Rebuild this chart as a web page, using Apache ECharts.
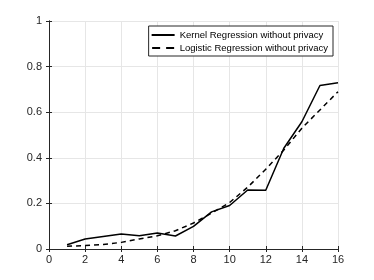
<!DOCTYPE html>
<html><head><meta charset="utf-8">
<script src="https://cdn.jsdelivr.net/npm/echarts@6/dist/echarts.min.js"></script>
<style>html,body{margin:0;padding:0;background:#fff}#c{width:374px;height:280px}</style>
</head><body><div id="c"></div>
<script>
var xValues = [1,2,3,4,5,6,7,8,9,10,11,12,13,14,15,16];
var kernelValues = [0.019,0.044,0.055,0.066,0.058,0.070,0.057,0.099,0.163,0.191,0.259,0.258,0.442,0.558,0.717,0.729];
var logisticValues = [0.012,0.015,0.020,0.029,0.044,0.058,0.080,0.114,0.157,0.204,0.271,0.350,0.434,0.530,0.610,0.690];
var seriesNames = ['Kernel Regression without privacy','Logistic Regression without privacy'];

function pairs(xs, ys){ return xs.map(function(x,i){ return [x, ys[i]]; }); }
var font = 'Liberation Sans, Arial, sans-serif';
var axisCol = '#262626';
var chart = echarts.init(document.getElementById('c'), null, {renderer:'canvas'});
var common = {
  axisLine:{show:true,lineStyle:{color:axisCol,width:1}},
  axisTick:{show:true,inside:true,length:3,lineStyle:{color:axisCol}},
};
chart.setOption({
  animation:false,
  grid:{left:49,right:36,top:21,bottom:31,show:false},
  legend:{
    orient:'vertical', right:41, top:26,
    backgroundColor:'#fff', borderColor:'#262626', borderWidth:1,
    padding:[4,5,3,3], itemGap:3, itemWidth:23, itemHeight:2,
    textStyle:{fontFamily:font,fontSize:9.5,color:'#000'},
    data:[
      {name:seriesNames[0],icon:'path://M0,0H23V2H0Z',itemStyle:{color:'#000'}},
      {name:seriesNames[1],icon:'path://M0,0H8V2H0ZM14,0H22V2H14Z',itemStyle:{color:'#000'}}
    ]
  },
  xAxis:[
    Object.assign({type:'value',min:0,max:16,interval:2,position:'bottom',
      axisLabel:{color:axisCol,fontFamily:font,fontSize:11,margin:5},
      splitLine:{show:true,lineStyle:{color:'#e6e6e6',width:1}}},common),
    Object.assign({type:'value',min:0,max:16,interval:2,position:'top',
      axisLabel:{show:false},splitLine:{show:false}},common)
  ],
  yAxis:[
    Object.assign({type:'value',min:0,max:1,interval:0.2,position:'left',
      axisLabel:{color:axisCol,fontFamily:font,fontSize:11,margin:7,
        formatter:function(v){return String(Math.round(v*10)/10);}},
      splitLine:{show:true,lineStyle:{color:'#e6e6e6',width:1}}},common),
    Object.assign({type:'value',min:0,max:1,interval:0.2,position:'right',
      axisLabel:{show:false},splitLine:{show:false}},common)
  ],
  series:[
    {name:seriesNames[0],type:'line',data:pairs(xValues,kernelValues),symbol:'none',
     lineStyle:{color:'#000',width:1.5,type:'solid'},itemStyle:{color:'#000'}},
    {name:seriesNames[1],type:'line',data:pairs(xValues,logisticValues),symbol:'none',
     lineStyle:{color:'#000',width:1.5,type:[5,4]},itemStyle:{color:'#000'}}
  ]
});
</script></body></html>
